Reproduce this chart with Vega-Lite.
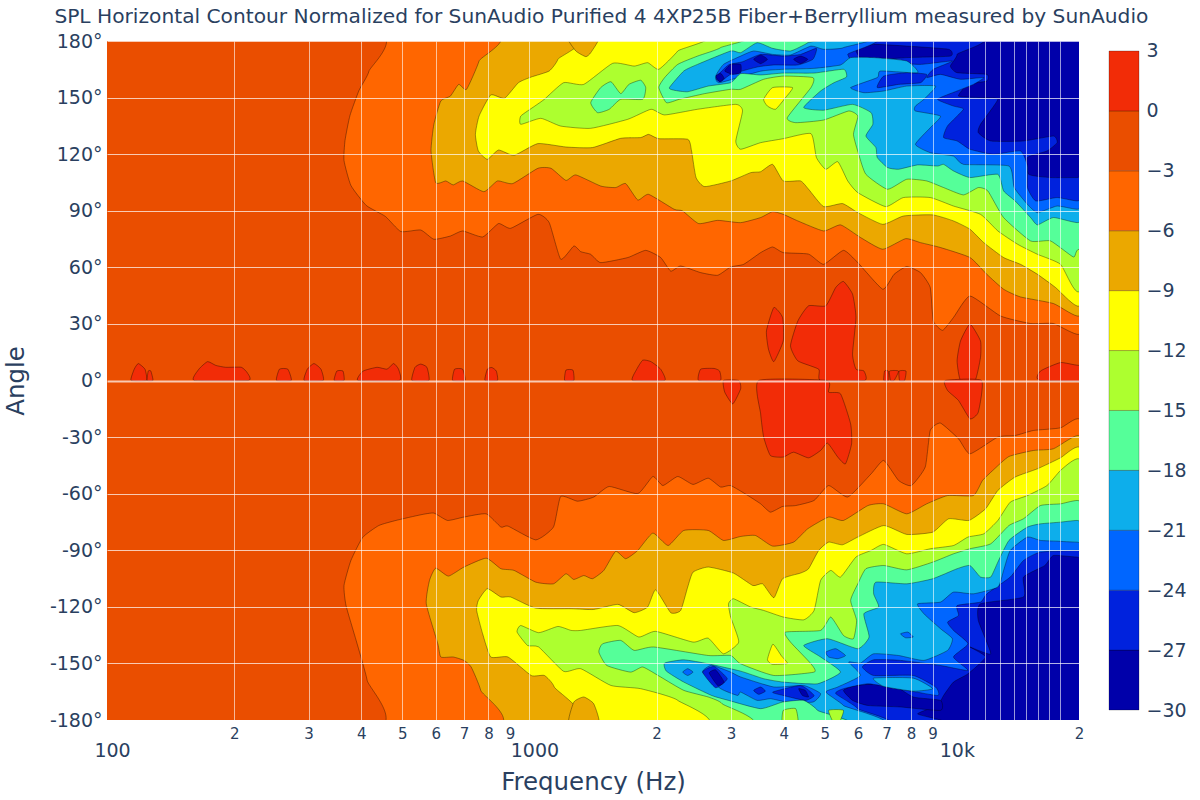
{"$schema":"https://vega.github.io/schema/vega-lite/v6.json","padding":{"left":3,"top":6,"right":0,"bottom":0},"background":"white","title":{"text":"SPL Horizontal Contour Normalized for SunAudio Purified 4 4XP25B Fiber+Berryllium measured by SunAudio","font":"DejaVu Sans","fontSize":20.2,"fontWeight":"normal","color":"#2a3f5f","anchor":"start","offset":5,"dx":51},"spacing":30,"bounds":"flush","hconcat":[{"width":972,"height":679,"data":{"values":[
{"s":"bg","b":-30,"f":50,"a":185},{"s":"bg","b":-30,"f":25000,"a":185},{"s":"bg","b":-30,"f":25000,"a":-185},{"s":"bg","b":-30,"f":50,"a":-185},
{"s":"L27","b":-27,"f":50,"a":185},{"s":"L27","b":-27,"f":9770,"a":185},{"s":"L27","b":-27,"f":10290,"a":172.9},{"s":"L27","b":-27,"f":9920,"a":166.7},{"s":"L27","b":-27,"f":10290,"a":163.2},{"s":"L27","b":-27,"f":12100,"a":162.3},{"s":"L27","b":-27,"f":12100,"a":158.8},{"s":"L27","b":-27,"f":10920,"a":157},{"s":"L27","b":-27,"f":10370,"a":150.8},{"s":"L27","b":-27,"f":11690,"a":150},{"s":"L27","b":-27,"f":12850,"a":149.1},{"s":"L27","b":-27,"f":11690,"a":135.8},{"s":"L27","b":-27,"f":11550,"a":131.4},{"s":"L27","b":-27,"f":12360,"a":127},{"s":"L27","b":-27,"f":14780,"a":127},{"s":"L27","b":-27,"f":17400,"a":129.6},{"s":"L27","b":-27,"f":17750,"a":126.1},{"s":"L27","b":-27,"f":16800,"a":121.7},{"s":"L27","b":-27,"f":15100,"a":118.2},{"s":"L27","b":-27,"f":15200,"a":109.3},{"s":"L27","b":-27,"f":17130,"a":107.6},{"s":"L27","b":-27,"f":19800,"a":107.6},{"s":"L27","b":-27,"f":25000,"a":107.6},{"s":"L27","b":-27,"f":25000,"a":-93.6},{"s":"L27","b":-27,"f":19800,"a":-93.6},{"s":"L27","b":-27,"f":17400,"a":-92.8},{"s":"L27","b":-27,"f":16600,"a":-98.1},{"s":"L27","b":-27,"f":14780,"a":-104.2},{"s":"L27","b":-27,"f":14780,"a":-114.8},{"s":"L27","b":-27,"f":11690,"a":-118.4},{"s":"L27","b":-27,"f":11550,"a":-127.2},{"s":"L27","b":-27,"f":12360,"a":-144.9},{"s":"L27","b":-27,"f":11040,"a":-141.3},{"s":"L27","b":-27,"f":12020,"a":-146.6},{"s":"L27","b":-27,"f":10920,"a":-155.5},{"s":"L27","b":-27,"f":10090,"a":-159.9},{"s":"L27","b":-27,"f":9560,"a":-167},{"s":"L27","b":-27,"f":9250,"a":-172.3},{"s":"L27","b":-27,"f":8300,"a":-176.7},{"s":"L27","b":-27,"f":8300,"a":-185},{"s":"L27","b":-27,"f":50,"a":-185},
{"s":"n1","b":-30,"f":5930,"a":175.6},{"s":"n1","b":-30,"f":6530,"a":178.2},{"s":"n1","b":-30,"f":7820,"a":177.3},{"s":"n1","b":-30,"f":9830,"a":175.6},{"s":"n1","b":-30,"f":9920,"a":172},{"s":"n1","b":-30,"f":7820,"a":171.2},{"s":"n1","b":-30,"f":6190,"a":169.8},
{"s":"n2","b":-30,"f":5540,"a":-164.3},{"s":"n2","b":-30,"f":5930,"a":-161.7},{"s":"n2","b":-30,"f":7160,"a":-160.8},{"s":"n2","b":-30,"f":8100,"a":-167.8},{"s":"n2","b":-30,"f":9400,"a":-169.6},{"s":"n2","b":-30,"f":9400,"a":-174.9},{"s":"n2","b":-30,"f":7560,"a":-173.1},{"s":"n2","b":-30,"f":6330,"a":-172.3},{"s":"n2","b":-30,"f":5820,"a":-169.6},
{"s":"L24","b":-24,"f":50,"a":185},{"s":"L24","b":-24,"f":5700,"a":185},{"s":"L24","b":-24,"f":5670,"a":172.9},{"s":"L24","b":-24,"f":5930,"a":167.6},{"s":"L24","b":-24,"f":7160,"a":168.5},{"s":"L24","b":-24,"f":8430,"a":167.6},{"s":"L24","b":-24,"f":10030,"a":169.4},{"s":"L24","b":-24,"f":9040,"a":165},{"s":"L24","b":-24,"f":8720,"a":160.6},{"s":"L24","b":-24,"f":9400,"a":162.3},{"s":"L24","b":-24,"f":10485,"a":159.7},{"s":"L24","b":-24,"f":11900,"a":160.6},{"s":"L24","b":-24,"f":11250,"a":157},{"s":"L24","b":-24,"f":10290,"a":153.5},{"s":"L24","b":-24,"f":9250,"a":149.1},{"s":"L24","b":-24,"f":10090,"a":145.5},{"s":"L24","b":-24,"f":10650,"a":143.8},{"s":"L24","b":-24,"f":9770,"a":135},{"s":"L24","b":-24,"f":9560,"a":128.8},{"s":"L24","b":-24,"f":10290,"a":127},{"s":"L24","b":-24,"f":11040,"a":122.6},{"s":"L24","b":-24,"f":12560,"a":119.9},{"s":"L24","b":-24,"f":14540,"a":121.7},{"s":"L24","b":-24,"f":15100,"a":113.7},{"s":"L24","b":-24,"f":15100,"a":102.3},{"s":"L24","b":-24,"f":15800,"a":95.2},{"s":"L24","b":-24,"f":17750,"a":97},{"s":"L24","b":-24,"f":19800,"a":95.2},{"s":"L24","b":-24,"f":25000,"a":95.2},{"s":"L24","b":-24,"f":25000,"a":-90.1},{"s":"L24","b":-24,"f":19800,"a":-90.1},{"s":"L24","b":-24,"f":16210,"a":-91},{"s":"L24","b":-24,"f":14780,"a":-95.4},{"s":"L24","b":-24,"f":13750,"a":-104.2},{"s":"L24","b":-24,"f":12100,"a":-113.1},{"s":"L24","b":-24,"f":11690,"a":-117.5},{"s":"L24","b":-24,"f":10290,"a":-119.3},{"s":"L24","b":-24,"f":10370,"a":-124.6},{"s":"L24","b":-24,"f":9770,"a":-128.1},{"s":"L24","b":-24,"f":10090,"a":-132.5},{"s":"L24","b":-24,"f":10920,"a":-139.6},{"s":"L24","b":-24,"f":10090,"a":-146.6},{"s":"L24","b":-24,"f":10920,"a":-153.7},{"s":"L24","b":-24,"f":9400,"a":-151.1},{"s":"L24","b":-24,"f":7560,"a":-148.4},{"s":"L24","b":-24,"f":6530,"a":-148.1},{"s":"L24","b":-24,"f":6140,"a":-151.9},{"s":"L24","b":-24,"f":6530,"a":-156.4},{"s":"L24","b":-24,"f":8100,"a":-156.4},{"s":"L24","b":-24,"f":9150,"a":-162.5},{"s":"L24","b":-24,"f":9250,"a":-167},{"s":"L24","b":-24,"f":7480,"a":-163.4},{"s":"L24","b":-24,"f":6330,"a":-160.8},{"s":"L24","b":-24,"f":5540,"a":-163.4},{"s":"L24","b":-24,"f":5310,"a":-166},{"s":"L24","b":-24,"f":5990,"a":-174},{"s":"L24","b":-24,"f":6080,"a":-185},{"s":"L24","b":-24,"f":50,"a":-185},
{"s":"d1","b":-27,"f":6900,"a":161.4},{"s":"d1","b":-27,"f":7820,"a":163.2},{"s":"d1","b":-27,"f":8720,"a":162.3},{"s":"d1","b":-27,"f":8430,"a":157.9},{"s":"d1","b":-27,"f":7480,"a":157},{"s":"d1","b":-27,"f":6660,"a":155.3},
{"s":"d2","b":-27,"f":2760,"a":160.6},{"s":"d2","b":-27,"f":2960,"a":167.3},{"s":"d2","b":-27,"f":3195,"a":169},{"s":"d2","b":-27,"f":3527,"a":172.9},{"s":"d2","b":-27,"f":3990,"a":172},{"s":"d2","b":-27,"f":4385,"a":172.9},{"s":"d2","b":-27,"f":4780,"a":176.1},{"s":"d2","b":-27,"f":4690,"a":170.3},{"s":"d2","b":-27,"f":4320,"a":167.3},{"s":"d2","b":-27,"f":3790,"a":167.3},{"s":"d2","b":-27,"f":3460,"a":166.2},{"s":"d2","b":-27,"f":2995,"a":162.3},{"s":"d2","b":-27,"f":2836,"a":158.4},
{"s":"n3","b":-30,"f":2900,"a":164.1},{"s":"n3","b":-30,"f":2995,"a":167.6},{"s":"n3","b":-30,"f":3163,"a":167.6},{"s":"n3","b":-30,"f":3163,"a":163.2},{"s":"n3","b":-30,"f":3030,"a":162.3},
{"s":"n4","b":-30,"f":2760,"a":161.4},{"s":"n4","b":-30,"f":2836,"a":162.9},{"s":"n4","b":-30,"f":2890,"a":160.2},{"s":"n4","b":-30,"f":2820,"a":158.4},
{"s":"n5","b":-30,"f":3395,"a":170.3},{"s":"n5","b":-30,"f":3527,"a":172.6},{"s":"n5","b":-30,"f":3660,"a":170.3},{"s":"n5","b":-30,"f":3527,"a":168},
{"s":"n6","b":-30,"f":4220,"a":170.3},{"s":"n6","b":-30,"f":4385,"a":172},{"s":"n6","b":-30,"f":4560,"a":170.3},{"s":"n6","b":-30,"f":4385,"a":168},
{"s":"L21","b":-21,"f":50,"a":185},{"s":"L21","b":-21,"f":5670,"a":185},{"s":"L21","b":-21,"f":5540,"a":176.5},{"s":"L21","b":-21,"f":4970,"a":175.6},{"s":"L21","b":-21,"f":4640,"a":177.3},{"s":"L21","b":-21,"f":4150,"a":172.6},{"s":"L21","b":-21,"f":3765,"a":172.9},{"s":"L21","b":-21,"f":3395,"a":174.7},{"s":"L21","b":-21,"f":3163,"a":172},{"s":"L21","b":-21,"f":2880,"a":167.6},{"s":"L21","b":-21,"f":2760,"a":161.4},{"s":"L21","b":-21,"f":2820,"a":157.9},{"s":"L21","b":-21,"f":3527,"a":164},{"s":"L21","b":-21,"f":3990,"a":165},{"s":"L21","b":-21,"f":4720,"a":165.5},{"s":"L21","b":-21,"f":5453,"a":167.3},{"s":"L21","b":-21,"f":5760,"a":171.2},{"s":"L21","b":-21,"f":6530,"a":171.2},{"s":"L21","b":-21,"f":7820,"a":169.4},{"s":"L21","b":-21,"f":8300,"a":163.2},{"s":"L21","b":-21,"f":6780,"a":164.1},{"s":"L21","b":-21,"f":6660,"a":160.6},{"s":"L21","b":-21,"f":5760,"a":155.3},{"s":"L21","b":-21,"f":6190,"a":152.6},{"s":"L21","b":-21,"f":6900,"a":153.5},{"s":"L21","b":-21,"f":7820,"a":156.1},{"s":"L21","b":-21,"f":9150,"a":156.1},{"s":"L21","b":-21,"f":8590,"a":149.1},{"s":"L21","b":-21,"f":8200,"a":145.5},{"s":"L21","b":-21,"f":8200,"a":142.9},{"s":"L21","b":-21,"f":9400,"a":140.2},{"s":"L21","b":-21,"f":8890,"a":134},{"s":"L21","b":-21,"f":8200,"a":125.2},{"s":"L21","b":-21,"f":8890,"a":120.8},{"s":"L21","b":-21,"f":10090,"a":119},{"s":"L21","b":-21,"f":10650,"a":114.6},{"s":"L21","b":-21,"f":13650,"a":113.7},{"s":"L21","b":-21,"f":14050,"a":102.3},{"s":"L21","b":-21,"f":15100,"a":93.4},{"s":"L21","b":-21,"f":15950,"a":89},{"s":"L21","b":-21,"f":17750,"a":92.5},{"s":"L21","b":-21,"f":19800,"a":90.8},{"s":"L21","b":-21,"f":25000,"a":90.8},{"s":"L21","b":-21,"f":25000,"a":-85.7},{"s":"L21","b":-21,"f":19800,"a":-85.7},{"s":"L21","b":-21,"f":17750,"a":-85.2},{"s":"L21","b":-21,"f":16210,"a":-84.8},{"s":"L21","b":-21,"f":15100,"a":-83},{"s":"L21","b":-21,"f":13750,"a":-90.1},{"s":"L21","b":-21,"f":13260,"a":-100.7},{"s":"L21","b":-21,"f":12850,"a":-109.5},{"s":"L21","b":-21,"f":11250,"a":-113.1},{"s":"L21","b":-21,"f":10090,"a":-112.2},{"s":"L21","b":-21,"f":9400,"a":-117.5},{"s":"L21","b":-21,"f":8300,"a":-118.4},{"s":"L21","b":-21,"f":8590,"a":-123.7},{"s":"L21","b":-21,"f":9400,"a":-131.6},{"s":"L21","b":-21,"f":10030,"a":-136.9},{"s":"L21","b":-21,"f":9770,"a":-143.1},{"s":"L21","b":-21,"f":8590,"a":-148.4},{"s":"L21","b":-21,"f":7480,"a":-145.8},{"s":"L21","b":-21,"f":6530,"a":-144.9},{"s":"L21","b":-21,"f":6080,"a":-149.8},{"s":"L21","b":-21,"f":5700,"a":-149.3},{"s":"L21","b":-21,"f":6080,"a":-156.4},{"s":"L21","b":-21,"f":5370,"a":-162.5},{"s":"L21","b":-21,"f":5030,"a":-165.2},{"s":"L21","b":-21,"f":5540,"a":-172.3},{"s":"L21","b":-21,"f":6020,"a":-185},{"s":"L21","b":-21,"f":50,"a":-185},
{"s":"k1","b":-21,"f":6530,"a":-157.8},{"s":"k1","b":-21,"f":8100,"a":-157.8},{"s":"k1","b":-21,"f":9010,"a":-163.4},{"s":"k1","b":-21,"f":8100,"a":-164.7},{"s":"k1","b":-21,"f":6900,"a":-162.2},
{"s":"h1","b":-24,"f":5030,"a":-144},{"s":"h1","b":-24,"f":5310,"a":-142.2},{"s":"h1","b":-24,"f":5600,"a":-145.8},{"s":"h1","b":-24,"f":5370,"a":-147.5},{"s":"h1","b":-24,"f":5110,"a":-146.6},
{"s":"h2","b":-24,"f":7560,"a":-134.3},{"s":"h2","b":-24,"f":7870,"a":-133.4},{"s":"h2","b":-24,"f":8100,"a":-136},{"s":"h2","b":-24,"f":7770,"a":-136.4},
{"s":"h3","b":-24,"f":2305,"a":-154.6},{"s":"h3","b":-24,"f":2370,"a":-152.8},{"s":"h3","b":-24,"f":2440,"a":-154.6},{"s":"h3","b":-24,"f":2370,"a":-156.4},
{"s":"h4","b":-24,"f":2570,"a":-154.6},{"s":"h4","b":-24,"f":2700,"a":-151},{"s":"h4","b":-24,"f":2995,"a":-154.6},{"s":"h4","b":-24,"f":3163,"a":-157.2},{"s":"h4","b":-24,"f":3790,"a":-162.5},{"s":"h4","b":-24,"f":4460,"a":-161.7},{"s":"h4","b":-24,"f":4890,"a":-166},{"s":"h4","b":-24,"f":4690,"a":-170.5},{"s":"h4","b":-24,"f":4080,"a":-170.5},{"s":"h4","b":-24,"f":3720,"a":-168.7},{"s":"h4","b":-24,"f":3460,"a":-169.6},{"s":"h4","b":-24,"f":3163,"a":-165.2},{"s":"h4","b":-24,"f":3110,"a":-167},{"s":"h4","b":-24,"f":2836,"a":-163.4},
{"s":"d3","b":-27,"f":2570,"a":-154.6},{"s":"d3","b":-27,"f":2735,"a":-151.6},{"s":"d3","b":-27,"f":2940,"a":-158.1},{"s":"d3","b":-27,"f":2760,"a":-162.9},
{"s":"n7","b":-30,"f":2665,"a":-155.1},{"s":"n7","b":-30,"f":2760,"a":-153.4},{"s":"n7","b":-30,"f":2890,"a":-159.9},{"s":"n7","b":-30,"f":2790,"a":-161.7},
{"s":"d4","b":-27,"f":3765,"a":-165.2},{"s":"d4","b":-27,"f":4385,"a":-161.7},{"s":"d4","b":-27,"f":4720,"a":-167},{"s":"d4","b":-27,"f":4500,"a":-169.6},{"s":"d4","b":-27,"f":3990,"a":-167},
{"s":"n8","b":-30,"f":4340,"a":-163.4},{"s":"n8","b":-30,"f":4500,"a":-164.3},{"s":"n8","b":-30,"f":4580,"a":-167.8},{"s":"n8","b":-30,"f":4430,"a":-167},
{"s":"d5","b":-27,"f":3395,"a":-164.3},{"s":"d5","b":-27,"f":3527,"a":-162.5},{"s":"d5","b":-27,"f":3620,"a":-164.7},{"s":"d5","b":-27,"f":3490,"a":-166.4},
{"s":"L18","b":-18,"f":50,"a":185},{"s":"L18","b":-18,"f":4810,"a":185},{"s":"L18","b":-18,"f":4560,"a":179.1},{"s":"L18","b":-18,"f":4150,"a":174.7},{"s":"L18","b":-18,"f":3765,"a":176.1},{"s":"L18","b":-18,"f":3460,"a":179.1},{"s":"L18","b":-18,"f":3163,"a":173.8},{"s":"L18","b":-18,"f":2995,"a":174.7},{"s":"L18","b":-18,"f":2500,"a":167.6},{"s":"L18","b":-18,"f":2320,"a":164.1},{"s":"L18","b":-18,"f":2145,"a":155.3},{"s":"L18","b":-18,"f":2200,"a":153.9},{"s":"L18","b":-18,"f":2370,"a":153.1},{"s":"L18","b":-18,"f":2650,"a":156.1},{"s":"L18","b":-18,"f":2995,"a":157.9},{"s":"L18","b":-18,"f":3163,"a":162.7},{"s":"L18","b":-18,"f":3527,"a":162},{"s":"L18","b":-18,"f":3990,"a":163},{"s":"L18","b":-18,"f":4720,"a":163},{"s":"L18","b":-18,"f":5540,"a":165},{"s":"L18","b":-18,"f":5630,"a":160.9},{"s":"L18","b":-18,"f":5260,"a":157.9},{"s":"L18","b":-18,"f":4890,"a":153.5},{"s":"L18","b":-18,"f":4460,"a":144.7},{"s":"L18","b":-18,"f":4970,"a":143.3},{"s":"L18","b":-18,"f":5820,"a":146.4},{"s":"L18","b":-18,"f":6440,"a":142},{"s":"L18","b":-18,"f":6500,"a":135.8},{"s":"L18","b":-18,"f":6260,"a":129.6},{"s":"L18","b":-18,"f":6610,"a":123.5},{"s":"L18","b":-18,"f":6660,"a":118.2},{"s":"L18","b":-18,"f":7040,"a":112.9},{"s":"L18","b":-18,"f":7480,"a":112},{"s":"L18","b":-18,"f":8300,"a":114.3},{"s":"L18","b":-18,"f":9250,"a":113.7},{"s":"L18","b":-18,"f":9560,"a":114.6},{"s":"L18","b":-18,"f":10090,"a":111.1},{"s":"L18","b":-18,"f":11040,"a":107.6},{"s":"L18","b":-18,"f":12850,"a":109.3},{"s":"L18","b":-18,"f":13260,"a":100.5},{"s":"L18","b":-18,"f":14120,"a":95.2},{"s":"L18","b":-18,"f":15360,"a":86.4},{"s":"L18","b":-18,"f":15950,"a":82.5},{"s":"L18","b":-18,"f":17400,"a":86.4},{"s":"L18","b":-18,"f":19800,"a":83.7},{"s":"L18","b":-18,"f":25000,"a":83.7},{"s":"L18","b":-18,"f":25000,"a":-74.2},{"s":"L18","b":-18,"f":19800,"a":-74.2},{"s":"L18","b":-18,"f":18080,"a":-75.1},{"s":"L18","b":-18,"f":16210,"a":-76},{"s":"L18","b":-18,"f":15100,"a":-77.7},{"s":"L18","b":-18,"f":13650,"a":-84.8},{"s":"L18","b":-18,"f":12850,"a":-96.3},{"s":"L18","b":-18,"f":12360,"a":-104.2},{"s":"L18","b":-18,"f":11690,"a":-104.2},{"s":"L18","b":-18,"f":11040,"a":-98.1},{"s":"L18","b":-18,"f":10290,"a":-99.8},{"s":"L18","b":-18,"f":9010,"a":-105.1},{"s":"L18","b":-18,"f":7820,"a":-107.8},{"s":"L18","b":-18,"f":6610,"a":-106.9},{"s":"L18","b":-18,"f":6530,"a":-113.1},{"s":"L18","b":-18,"f":6710,"a":-120.1},{"s":"L18","b":-18,"f":6190,"a":-123.7},{"s":"L18","b":-18,"f":6370,"a":-136},{"s":"L18","b":-18,"f":5990,"a":-142.2},{"s":"L18","b":-18,"f":5080,"a":-136.9},{"s":"L18","b":-18,"f":4460,"a":-140.5},{"s":"L18","b":-18,"f":4890,"a":-146.6},{"s":"L18","b":-18,"f":5453,"a":-154.6},{"s":"L18","b":-18,"f":4810,"a":-160.8},{"s":"L18","b":-18,"f":3990,"a":-159.9},{"s":"L18","b":-18,"f":3585,"a":-158.1},{"s":"L18","b":-18,"f":3163,"a":-154.1},{"s":"L18","b":-18,"f":2650,"a":-150.2},{"s":"L18","b":-18,"f":2320,"a":-148.1},{"s":"L18","b":-18,"f":2090,"a":-149.8},{"s":"L18","b":-18,"f":2110,"a":-154.1},{"s":"L18","b":-18,"f":2320,"a":-159.9},{"s":"L18","b":-18,"f":2700,"a":-167},{"s":"L18","b":-18,"f":2960,"a":-169.6},{"s":"L18","b":-18,"f":3527,"a":-174},{"s":"L18","b":-18,"f":3975,"a":-170.5},{"s":"L18","b":-18,"f":4460,"a":-169.6},{"s":"L18","b":-18,"f":4810,"a":-174.9},{"s":"L18","b":-18,"f":4950,"a":-185},{"s":"L18","b":-18,"f":50,"a":-185},
{"s":"L15","b":-15,"f":50,"a":185},{"s":"L15","b":-15,"f":2940,"a":185},{"s":"L15","b":-15,"f":2836,"a":176.5},{"s":"L15","b":-15,"f":2500,"a":172},{"s":"L15","b":-15,"f":2245,"a":167.6},{"s":"L15","b":-15,"f":2090,"a":160.6},{"s":"L15","b":-15,"f":2025,"a":155.3},{"s":"L15","b":-15,"f":2110,"a":147.3},{"s":"L15","b":-15,"f":2265,"a":149.1},{"s":"L15","b":-15,"f":2600,"a":152.1},{"s":"L15","b":-15,"f":2995,"a":154.4},{"s":"L15","b":-15,"f":3163,"a":154.4},{"s":"L15","b":-15,"f":3585,"a":159.7},{"s":"L15","b":-15,"f":3990,"a":161.4},{"s":"L15","b":-15,"f":4690,"a":160.6},{"s":"L15","b":-15,"f":4640,"a":155.3},{"s":"L15","b":-15,"f":4080,"a":139.4},{"s":"L15","b":-15,"f":4270,"a":136.7},{"s":"L15","b":-15,"f":4970,"a":138.1},{"s":"L15","b":-15,"f":5700,"a":142.9},{"s":"L15","b":-15,"f":5990,"a":140.2},{"s":"L15","b":-15,"f":5850,"a":130.5},{"s":"L15","b":-15,"f":6020,"a":119.9},{"s":"L15","b":-15,"f":6260,"a":109.3},{"s":"L15","b":-15,"f":7040,"a":101.4},{"s":"L15","b":-15,"f":7820,"a":106.7},{"s":"L15","b":-15,"f":8720,"a":105.8},{"s":"L15","b":-15,"f":9560,"a":102.3},{"s":"L15","b":-15,"f":10650,"a":98.4},{"s":"L15","b":-15,"f":11550,"a":102.3},{"s":"L15","b":-15,"f":12170,"a":100.5},{"s":"L15","b":-15,"f":13260,"a":86.4},{"s":"L15","b":-15,"f":15360,"a":74},{"s":"L15","b":-15,"f":17130,"a":74},{"s":"L15","b":-15,"f":19400,"a":65.5},{"s":"L15","b":-15,"f":20000,"a":69.6},{"s":"L15","b":-15,"f":25000,"a":69.6},{"s":"L15","b":-15,"f":25000,"a":-63.6},{"s":"L15","b":-15,"f":19800,"a":-63.6},{"s":"L15","b":-15,"f":18080,"a":-65.4},{"s":"L15","b":-15,"f":16210,"a":-66.3},{"s":"L15","b":-15,"f":14780,"a":-73.3},{"s":"L15","b":-15,"f":13650,"a":-76.9},{"s":"L15","b":-15,"f":12360,"a":-86.6},{"s":"L15","b":-15,"f":11040,"a":-89.2},{"s":"L15","b":-15,"f":10090,"a":-91.9},{"s":"L15","b":-15,"f":9010,"a":-96.3},{"s":"L15","b":-15,"f":7820,"a":-100.4},{"s":"L15","b":-15,"f":6900,"a":-98.1},{"s":"L15","b":-15,"f":6260,"a":-99.8},{"s":"L15","b":-15,"f":5990,"a":-107.8},{"s":"L15","b":-15,"f":5760,"a":-116.6},{"s":"L15","b":-15,"f":5950,"a":-127.2},{"s":"L15","b":-15,"f":5850,"a":-136.9},{"s":"L15","b":-15,"f":5540,"a":-135.2},{"s":"L15","b":-15,"f":5170,"a":-125.4},{"s":"L15","b":-15,"f":4890,"a":-132.5},{"s":"L15","b":-15,"f":4040,"a":-133.4},{"s":"L15","b":-15,"f":4150,"a":-138.7},{"s":"L15","b":-15,"f":4640,"a":-150.2},{"s":"L15","b":-15,"f":4720,"a":-154.6},{"s":"L15","b":-15,"f":3790,"a":-156.4},{"s":"L15","b":-15,"f":3163,"a":-150.2},{"s":"L15","b":-15,"f":2995,"a":-145.8},{"s":"L15","b":-15,"f":2650,"a":-145.8},{"s":"L15","b":-15,"f":1970,"a":-141.3},{"s":"L15","b":-15,"f":1770,"a":-143.1},{"s":"L15","b":-15,"f":1645,"a":-137.8},{"s":"L15","b":-15,"f":1490,"a":-139.6},{"s":"L15","b":-15,"f":1460,"a":-144},{"s":"L15","b":-15,"f":1525,"a":-151.1},{"s":"L15","b":-15,"f":1735,"a":-154.6},{"s":"L15","b":-15,"f":1855,"a":-151.9},{"s":"L15","b":-15,"f":2045,"a":-157.2},{"s":"L15","b":-15,"f":2320,"a":-164.3},{"s":"L15","b":-15,"f":2650,"a":-167.8},{"s":"L15","b":-15,"f":2860,"a":-171.4},{"s":"L15","b":-15,"f":2960,"a":-185},{"s":"L15","b":-15,"f":50,"a":-185},
{"s":"p1","b":-18,"f":1397,"a":147.3},{"s":"p1","b":-18,"f":1475,"a":155.3},{"s":"p1","b":-18,"f":1560,"a":158.4},{"s":"p1","b":-18,"f":1645,"a":152.1},{"s":"p1","b":-18,"f":1720,"a":157},{"s":"p1","b":-18,"f":1834,"a":159.2},{"s":"p1","b":-18,"f":1885,"a":155.3},{"s":"p1","b":-18,"f":1855,"a":149.1},{"s":"p1","b":-18,"f":1645,"a":149.1},{"s":"p1","b":-18,"f":1545,"a":143.8},{"s":"p1","b":-18,"f":1450,"a":142},
{"s":"g1","b":-15,"f":3975,"a":-182},{"s":"g1","b":-15,"f":3990,"a":-174.9},{"s":"g1","b":-15,"f":4270,"a":-174},{"s":"g1","b":-15,"f":4320,"a":-182},
{"s":"g2","b":-15,"f":5110,"a":-174.9},{"s":"g2","b":-15,"f":5540,"a":-174.9},{"s":"g2","b":-15,"f":5400,"a":-182},{"s":"g2","b":-15,"f":5260,"a":-182},
{"s":"L12","b":-12,"f":50,"a":185},{"s":"L12","b":-12,"f":2370,"a":185},{"s":"L12","b":-12,"f":2245,"a":174.7},{"s":"L12","b":-12,"f":2025,"a":165},{"s":"L12","b":-12,"f":1905,"a":168.5},{"s":"L12","b":-12,"f":1770,"a":166.7},{"s":"L12","b":-12,"f":1575,"a":168.2},{"s":"L12","b":-12,"f":1345,"a":157},{"s":"L12","b":-12,"f":1205,"a":157.9},{"s":"L12","b":-12,"f":1085,"a":149.1},{"s":"L12","b":-12,"f":1030,"a":145.5},{"s":"L12","b":-12,"f":954,"a":140.2},{"s":"L12","b":-12,"f":954,"a":135.8},{"s":"L12","b":-12,"f":1064,"a":139},{"s":"L12","b":-12,"f":1186,"a":134.9},{"s":"L12","b":-12,"f":1397,"a":133.7},{"s":"L12","b":-12,"f":1710,"a":138.5},{"s":"L12","b":-12,"f":1940,"a":143.8},{"s":"L12","b":-12,"f":2090,"a":140.8},{"s":"L12","b":-12,"f":2500,"a":143.8},{"s":"L12","b":-12,"f":3080,"a":146.4},{"s":"L12","b":-12,"f":3195,"a":142.9},{"s":"L12","b":-12,"f":3080,"a":127},{"s":"L12","b":-12,"f":3163,"a":122.6},{"s":"L12","b":-12,"f":3527,"a":126.1},{"s":"L12","b":-12,"f":3990,"a":128.2},{"s":"L12","b":-12,"f":4640,"a":130.9},{"s":"L12","b":-12,"f":4780,"a":118.2},{"s":"L12","b":-12,"f":5030,"a":112},{"s":"L12","b":-12,"f":5370,"a":116},{"s":"L12","b":-12,"f":5670,"a":105.8},{"s":"L12","b":-12,"f":5990,"a":99.6},{"s":"L12","b":-12,"f":6970,"a":92.2},{"s":"L12","b":-12,"f":7680,"a":97},{"s":"L12","b":-12,"f":8890,"a":97},{"s":"L12","b":-12,"f":10090,"a":92.5},{"s":"L12","b":-12,"f":11690,"a":88.1},{"s":"L12","b":-12,"f":12850,"a":79.3},{"s":"L12","b":-12,"f":14320,"a":72.2},{"s":"L12","b":-12,"f":15950,"a":66.9},{"s":"L12","b":-12,"f":18080,"a":61.6},{"s":"L12","b":-12,"f":19800,"a":47.1},{"s":"L12","b":-12,"f":25000,"a":47.1},{"s":"L12","b":-12,"f":25000,"a":-41.5},{"s":"L12","b":-12,"f":19800,"a":-41.5},{"s":"L12","b":-12,"f":18080,"a":-47.7},{"s":"L12","b":-12,"f":16800,"a":-55.7},{"s":"L12","b":-12,"f":15100,"a":-61},{"s":"L12","b":-12,"f":13750,"a":-64.5},{"s":"L12","b":-12,"f":12850,"a":-74.2},{"s":"L12","b":-12,"f":11900,"a":-81.3},{"s":"L12","b":-12,"f":10920,"a":-83},{"s":"L12","b":-12,"f":10090,"a":-87.5},{"s":"L12","b":-12,"f":8890,"a":-89.2},{"s":"L12","b":-12,"f":7820,"a":-91.9},{"s":"L12","b":-12,"f":6900,"a":-86.9},{"s":"L12","b":-12,"f":6440,"a":-90.1},{"s":"L12","b":-12,"f":5930,"a":-93.6},{"s":"L12","b":-12,"f":5453,"a":-104.2},{"s":"L12","b":-12,"f":5170,"a":-100.7},{"s":"L12","b":-12,"f":4890,"a":-106},{"s":"L12","b":-12,"f":4720,"a":-121.9},{"s":"L12","b":-12,"f":4460,"a":-126.9},{"s":"L12","b":-12,"f":3990,"a":-125.4},{"s":"L12","b":-12,"f":3585,"a":-121.9},{"s":"L12","b":-12,"f":3340,"a":-120.1},{"s":"L12","b":-12,"f":3040,"a":-115.7},{"s":"L12","b":-12,"f":2960,"a":-118.4},{"s":"L12","b":-12,"f":2995,"a":-125.4},{"s":"L12","b":-12,"f":3130,"a":-138.7},{"s":"L12","b":-12,"f":2880,"a":-144.9},{"s":"L12","b":-12,"f":2650,"a":-136.6},{"s":"L12","b":-12,"f":2440,"a":-138.7},{"s":"L12","b":-12,"f":1990,"a":-133},{"s":"L12","b":-12,"f":1815,"a":-136},{"s":"L12","b":-12,"f":1620,"a":-129.9},{"s":"L12","b":-12,"f":1323,"a":-132.5},{"s":"L12","b":-12,"f":1255,"a":-132.5},{"s":"L12","b":-12,"f":1168,"a":-130.4},{"s":"L12","b":-12,"f":1052,"a":-133.7},{"s":"L12","b":-12,"f":954,"a":-129.9},{"s":"L12","b":-12,"f":935,"a":-133.4},{"s":"L12","b":-12,"f":990,"a":-140.5},{"s":"L12","b":-12,"f":1052,"a":-141.3},{"s":"L12","b":-12,"f":1205,"a":-154.2},{"s":"L12","b":-12,"f":1323,"a":-152.8},{"s":"L12","b":-12,"f":1560,"a":-161.7},{"s":"L12","b":-12,"f":1834,"a":-163.4},{"s":"L12","b":-12,"f":2245,"a":-169.6},{"s":"L12","b":-12,"f":2340,"a":-185},{"s":"L12","b":-12,"f":50,"a":-185},
{"s":"y1","b":-12,"f":3585,"a":149.1},{"s":"y1","b":-12,"f":3765,"a":155.3},{"s":"y1","b":-12,"f":4195,"a":155.3},{"s":"y1","b":-12,"f":4040,"a":150},{"s":"y1","b":-12,"f":3825,"a":143.8},{"s":"y1","b":-12,"f":3660,"a":145.5},
{"s":"y2","b":-12,"f":3660,"a":-148},{"s":"y2","b":-12,"f":3770,"a":-139.8},{"s":"y2","b":-12,"f":3950,"a":-146},{"s":"y2","b":-12,"f":4080,"a":-150},{"s":"y2","b":-12,"f":3760,"a":-150.5},
{"s":"L9","b":-9,"f":50,"a":185},{"s":"L9","b":-9,"f":1198,"a":185},{"s":"L9","b":-9,"f":1168,"a":170.3},{"s":"L9","b":-9,"f":1114,"a":164.1},{"s":"L9","b":-9,"f":1010,"a":160.9},{"s":"L9","b":-9,"f":942,"a":157.9},{"s":"L9","b":-9,"f":873,"a":149.6},{"s":"L9","b":-9,"f":810,"a":151.4},{"s":"L9","b":-9,"f":760,"a":140.2},{"s":"L9","b":-9,"f":745,"a":130.5},{"s":"L9","b":-9,"f":757,"a":121.7},{"s":"L9","b":-9,"f":795,"a":117.3},{"s":"L9","b":-9,"f":845,"a":122.2},{"s":"L9","b":-9,"f":920,"a":119.4},{"s":"L9","b":-9,"f":1047,"a":125.6},{"s":"L9","b":-9,"f":1220,"a":123.8},{"s":"L9","b":-9,"f":1410,"a":123.5},{"s":"L9","b":-9,"f":1645,"a":128.4},{"s":"L9","b":-9,"f":1834,"a":128.8},{"s":"L9","b":-9,"f":1915,"a":130.5},{"s":"L9","b":-9,"f":2025,"a":128.2},{"s":"L9","b":-9,"f":2370,"a":127.9},{"s":"L9","b":-9,"f":2420,"a":121.7},{"s":"L9","b":-9,"f":2480,"a":107.6},{"s":"L9","b":-9,"f":2600,"a":102.8},{"s":"L9","b":-9,"f":2995,"a":105.8},{"s":"L9","b":-9,"f":3340,"a":110.2},{"s":"L9","b":-9,"f":3527,"a":110.7},{"s":"L9","b":-9,"f":3765,"a":114.6},{"s":"L9","b":-9,"f":3990,"a":105.8},{"s":"L9","b":-9,"f":4385,"a":105.8},{"s":"L9","b":-9,"f":4580,"a":101.4},{"s":"L9","b":-9,"f":4970,"a":92.2},{"s":"L9","b":-9,"f":5510,"a":93.8},{"s":"L9","b":-9,"f":5990,"a":89},{"s":"L9","b":-9,"f":6860,"a":82.8},{"s":"L9","b":-9,"f":7680,"a":87.2},{"s":"L9","b":-9,"f":9010,"a":87.8},{"s":"L9","b":-9,"f":10090,"a":84.6},{"s":"L9","b":-9,"f":11040,"a":80.2},{"s":"L9","b":-9,"f":11900,"a":73.1},{"s":"L9","b":-9,"f":13260,"a":65.2},{"s":"L9","b":-9,"f":14540,"a":61.6},{"s":"L9","b":-9,"f":15950,"a":56.3},{"s":"L9","b":-9,"f":17600,"a":49.3},{"s":"L9","b":-9,"f":19800,"a":39.5},{"s":"L9","b":-9,"f":25000,"a":39.5},{"s":"L9","b":-9,"f":25000,"a":-35.3},{"s":"L9","b":-9,"f":19800,"a":-35.3},{"s":"L9","b":-9,"f":18080,"a":-41},{"s":"L9","b":-9,"f":15950,"a":-46.8},{"s":"L9","b":-9,"f":14120,"a":-51.2},{"s":"L9","b":-9,"f":12850,"a":-58.3},{"s":"L9","b":-9,"f":12020,"a":-68},{"s":"L9","b":-9,"f":10980,"a":-74.2},{"s":"L9","b":-9,"f":9830,"a":-73.3},{"s":"L9","b":-9,"f":9010,"a":-80.4},{"s":"L9","b":-9,"f":7820,"a":-81.6},{"s":"L9","b":-9,"f":6900,"a":-76.9},{"s":"L9","b":-9,"f":5990,"a":-83},{"s":"L9","b":-9,"f":5510,"a":-87.1},{"s":"L9","b":-9,"f":5110,"a":-85.7},{"s":"L9","b":-9,"f":4840,"a":-90.1},{"s":"L9","b":-9,"f":4580,"a":-99.8},{"s":"L9","b":-9,"f":4385,"a":-102.1},{"s":"L9","b":-9,"f":3975,"a":-105.1},{"s":"L9","b":-9,"f":3790,"a":-115.2},{"s":"L9","b":-9,"f":3565,"a":-107.8},{"s":"L9","b":-9,"f":3380,"a":-108.7},{"s":"L9","b":-9,"f":3040,"a":-102.1},{"s":"L9","b":-9,"f":2650,"a":-98.9},{"s":"L9","b":-9,"f":2440,"a":-101.6},{"s":"L9","b":-9,"f":2370,"a":-109.5},{"s":"L9","b":-9,"f":2281,"a":-121.9},{"s":"L9","b":-9,"f":2160,"a":-123.1},{"s":"L9","b":-9,"f":1990,"a":-111},{"s":"L9","b":-9,"f":1905,"a":-120.1},{"s":"L9","b":-9,"f":1770,"a":-123.1},{"s":"L9","b":-9,"f":1620,"a":-118.7},{"s":"L9","b":-9,"f":1420,"a":-121.4},{"s":"L9","b":-9,"f":1255,"a":-121},{"s":"L9","b":-9,"f":1035,"a":-120.7},{"s":"L9","b":-9,"f":903,"a":-114.8},{"s":"L9","b":-9,"f":856,"a":-114.8},{"s":"L9","b":-9,"f":795,"a":-110.4},{"s":"L9","b":-9,"f":757,"a":-116.6},{"s":"L9","b":-9,"f":750,"a":-121.9},{"s":"L9","b":-9,"f":775,"a":-134.3},{"s":"L9","b":-9,"f":810,"a":-146.6},{"s":"L9","b":-9,"f":890,"a":-146.6},{"s":"L9","b":-9,"f":1010,"a":-156.4},{"s":"L9","b":-9,"f":1085,"a":-156.4},{"s":"L9","b":-9,"f":1145,"a":-162.5},{"s":"L9","b":-9,"f":1205,"a":-185},{"s":"L9","b":-9,"f":50,"a":-185},
{"s":"o1","b":-9,"f":1240,"a":-182},{"s":"o1","b":-9,"f":1274,"a":-170.5},{"s":"o1","b":-9,"f":1345,"a":-167.8},{"s":"o1","b":-9,"f":1420,"a":-171.4},{"s":"o1","b":-9,"f":1460,"a":-182},
{"s":"o2","b":-9,"f":1233,"a":182},{"s":"o2","b":-9,"f":1288,"a":174.7},{"s":"o2","b":-9,"f":1360,"a":171.7},{"s":"o2","b":-9,"f":1397,"a":173.8},{"s":"o2","b":-9,"f":1460,"a":182},
{"s":"L6","b":-6,"f":50,"a":185},{"s":"L6","b":-6,"f":780,"a":185},{"s":"L6","b":-6,"f":760,"a":169.4},{"s":"L6","b":-6,"f":710,"a":154.4},{"s":"L6","b":-6,"f":680,"a":157},{"s":"L6","b":-6,"f":650,"a":150.8},{"s":"L6","b":-6,"f":617,"a":148.2},{"s":"L6","b":-6,"f":594,"a":135.8},{"s":"L6","b":-6,"f":585,"a":121.7},{"s":"L6","b":-6,"f":600,"a":104.9},{"s":"L6","b":-6,"f":634,"a":105.8},{"s":"L6","b":-6,"f":660,"a":103.7},{"s":"L6","b":-6,"f":695,"a":105.8},{"s":"L6","b":-6,"f":780,"a":100.1},{"s":"L6","b":-6,"f":840,"a":105.8},{"s":"L6","b":-6,"f":913,"a":104.4},{"s":"L6","b":-6,"f":1047,"a":112.5},{"s":"L6","b":-6,"f":1125,"a":112.5},{"s":"L6","b":-6,"f":1220,"a":106.1},{"s":"L6","b":-6,"f":1288,"a":109},{"s":"L6","b":-6,"f":1475,"a":103.1},{"s":"L6","b":-6,"f":1600,"a":102.3},{"s":"L6","b":-6,"f":1690,"a":104.4},{"s":"L6","b":-6,"f":1805,"a":95.7},{"s":"L6","b":-6,"f":1915,"a":98.7},{"s":"L6","b":-6,"f":2200,"a":90.8},{"s":"L6","b":-6,"f":2305,"a":89.9},{"s":"L6","b":-6,"f":2515,"a":83.2},{"s":"L6","b":-6,"f":2790,"a":84.9},{"s":"L6","b":-6,"f":3163,"a":83.7},{"s":"L6","b":-6,"f":3527,"a":86.4},{"s":"L6","b":-6,"f":3765,"a":89.5},{"s":"L6","b":-6,"f":3990,"a":88.1},{"s":"L6","b":-6,"f":4320,"a":84.6},{"s":"L6","b":-6,"f":4970,"a":79.3},{"s":"L6","b":-6,"f":5453,"a":82.5},{"s":"L6","b":-6,"f":6080,"a":75.8},{"s":"L6","b":-6,"f":6860,"a":69.6},{"s":"L6","b":-6,"f":7770,"a":75.2},{"s":"L6","b":-6,"f":8430,"a":73.1},{"s":"L6","b":-6,"f":9400,"a":70.5},{"s":"L6","b":-6,"f":11040,"a":65.2},{"s":"L6","b":-6,"f":12100,"a":56.3},{"s":"L6","b":-6,"f":13260,"a":48.4},{"s":"L6","b":-6,"f":14540,"a":44.3},{"s":"L6","b":-6,"f":17400,"a":40.8},{"s":"L6","b":-6,"f":19800,"a":34.2},{"s":"L6","b":-6,"f":25000,"a":34.2},{"s":"L6","b":-6,"f":25000,"a":-29.2},{"s":"L6","b":-6,"f":19800,"a":-29.2},{"s":"L6","b":-6,"f":17400,"a":-36.2},{"s":"L6","b":-6,"f":15600,"a":-37.1},{"s":"L6","b":-6,"f":13650,"a":-40.3},{"s":"L6","b":-6,"f":12500,"a":-47.7},{"s":"L6","b":-6,"f":11820,"a":-53},{"s":"L6","b":-6,"f":11250,"a":-61},{"s":"L6","b":-6,"f":9770,"a":-61},{"s":"L6","b":-6,"f":8720,"a":-65.4},{"s":"L6","b":-6,"f":7820,"a":-70.7},{"s":"L6","b":-6,"f":6900,"a":-65.4},{"s":"L6","b":-6,"f":6330,"a":-66.3},{"s":"L6","b":-6,"f":5540,"a":-74.2},{"s":"L6","b":-6,"f":5110,"a":-72.4},{"s":"L6","b":-6,"f":4560,"a":-78.6},{"s":"L6","b":-6,"f":4220,"a":-85.7},{"s":"L6","b":-6,"f":3765,"a":-87.8},{"s":"L6","b":-6,"f":3430,"a":-82.2},{"s":"L6","b":-6,"f":3163,"a":-82.7},{"s":"L6","b":-6,"f":2880,"a":-84.8},{"s":"L6","b":-6,"f":2650,"a":-79.5},{"s":"L6","b":-6,"f":2320,"a":-79.5},{"s":"L6","b":-6,"f":2130,"a":-87.5},{"s":"L6","b":-6,"f":1960,"a":-80.9},{"s":"L6","b":-6,"f":1805,"a":-90.1},{"s":"L6","b":-6,"f":1690,"a":-94.5},{"s":"L6","b":-6,"f":1600,"a":-90.6},{"s":"L6","b":-6,"f":1500,"a":-100.7},{"s":"L6","b":-6,"f":1410,"a":-105.1},{"s":"L6","b":-6,"f":1345,"a":-103.4},{"s":"L6","b":-6,"f":1274,"a":-105.5},{"s":"L6","b":-6,"f":1220,"a":-102.5},{"s":"L6","b":-6,"f":1140,"a":-107.8},{"s":"L6","b":-6,"f":1035,"a":-106.9},{"s":"L6","b":-6,"f":920,"a":-100.7},{"s":"L6","b":-6,"f":856,"a":-99.8},{"s":"L6","b":-6,"f":790,"a":-94.2},{"s":"L6","b":-6,"f":700,"a":-98.9},{"s":"L6","b":-6,"f":643,"a":-103.7},{"s":"L6","b":-6,"f":600,"a":-99.5},{"s":"L6","b":-6,"f":580,"a":-106},{"s":"L6","b":-6,"f":570,"a":-118.4},{"s":"L6","b":-6,"f":607,"a":-139.6},{"s":"L6","b":-6,"f":617,"a":-146.6},{"s":"L6","b":-6,"f":660,"a":-146.6},{"s":"L6","b":-6,"f":700,"a":-148.4},{"s":"L6","b":-6,"f":728,"a":-151.9},{"s":"L6","b":-6,"f":767,"a":-164.3},{"s":"L6","b":-6,"f":790,"a":-185},{"s":"L6","b":-6,"f":50,"a":-185},
{"s":"L3","b":-3,"f":50,"a":185},{"s":"L3","b":-3,"f":426,"a":185},{"s":"L3","b":-3,"f":417,"a":164},{"s":"L3","b":-3,"f":395,"a":153.8},{"s":"L3","b":-3,"f":376,"a":140.5},{"s":"L3","b":-3,"f":366,"a":127.3},{"s":"L3","b":-3,"f":364,"a":116.6},{"s":"L3","b":-3,"f":378,"a":103.4},{"s":"L3","b":-3,"f":411,"a":92.8},{"s":"L3","b":-3,"f":456,"a":87},{"s":"L3","b":-3,"f":496,"a":79},{"s":"L3","b":-3,"f":553,"a":79.8},{"s":"L3","b":-3,"f":594,"a":74.9},{"s":"L3","b":-3,"f":650,"a":76.6},{"s":"L3","b":-3,"f":695,"a":79.3},{"s":"L3","b":-3,"f":775,"a":76.1},{"s":"L3","b":-3,"f":845,"a":83.2},{"s":"L3","b":-3,"f":903,"a":80.7},{"s":"L3","b":-3,"f":1047,"a":88.1},{"s":"L3","b":-3,"f":1114,"a":83.7},{"s":"L3","b":-3,"f":1186,"a":64.3},{"s":"L3","b":-3,"f":1274,"a":71.3},{"s":"L3","b":-3,"f":1323,"a":68.3},{"s":"L3","b":-3,"f":1397,"a":66.9},{"s":"L3","b":-3,"f":1475,"a":62.5},{"s":"L3","b":-3,"f":1710,"a":65.2},{"s":"L3","b":-3,"f":1885,"a":69},{"s":"L3","b":-3,"f":2045,"a":65.2},{"s":"L3","b":-3,"f":2160,"a":58},{"s":"L3","b":-3,"f":2281,"a":60.7},{"s":"L3","b":-3,"f":2543,"a":57.2},{"s":"L3","b":-3,"f":2790,"a":55.8},{"s":"L3","b":-3,"f":2995,"a":60.2},{"s":"L3","b":-3,"f":3215,"a":61.6},{"s":"L3","b":-3,"f":3527,"a":67.8},{"s":"L3","b":-3,"f":3765,"a":70.8},{"s":"L3","b":-3,"f":3990,"a":67.8},{"s":"L3","b":-3,"f":4580,"a":67},{"s":"L3","b":-3,"f":4970,"a":61.6},{"s":"L3","b":-3,"f":5540,"a":69},{"s":"L3","b":-3,"f":5990,"a":62.5},{"s":"L3","b":-3,"f":6860,"a":48.4},{"s":"L3","b":-3,"f":7300,"a":56.3},{"s":"L3","b":-3,"f":7820,"a":60.4},{"s":"L3","b":-3,"f":8430,"a":57.2},{"s":"L3","b":-3,"f":8890,"a":49.3},{"s":"L3","b":-3,"f":9040,"a":31.6},{"s":"L3","b":-3,"f":9510,"a":26.6},{"s":"L3","b":-3,"f":10090,"a":33.4},{"s":"L3","b":-3,"f":11040,"a":44.8},{"s":"L3","b":-3,"f":13040,"a":34.2},{"s":"L3","b":-3,"f":15360,"a":30.2},{"s":"L3","b":-3,"f":17400,"a":30.2},{"s":"L3","b":-3,"f":19800,"a":24.5},{"s":"L3","b":-3,"f":25000,"a":24.5},{"s":"L3","b":-3,"f":25000,"a":-20.3},{"s":"L3","b":-3,"f":19800,"a":-20.3},{"s":"L3","b":-3,"f":18080,"a":-25.1},{"s":"L3","b":-3,"f":15600,"a":-26.5},{"s":"L3","b":-3,"f":14120,"a":-29.2},{"s":"L3","b":-3,"f":12850,"a":-30},{"s":"L3","b":-3,"f":11040,"a":-38.9},{"s":"L3","b":-3,"f":10370,"a":-30.9},{"s":"L3","b":-3,"f":9400,"a":-22.6},{"s":"L3","b":-3,"f":8890,"a":-26.5},{"s":"L3","b":-3,"f":8650,"a":-45.9},{"s":"L3","b":-3,"f":8020,"a":-55.7},{"s":"L3","b":-3,"f":7480,"a":-53},{"s":"L3","b":-3,"f":6900,"a":-42.4},{"s":"L3","b":-3,"f":6440,"a":-49.5},{"s":"L3","b":-3,"f":5670,"a":-61.8},{"s":"L3","b":-3,"f":5110,"a":-55.7},{"s":"L3","b":-3,"f":4720,"a":-63.6},{"s":"L3","b":-3,"f":4270,"a":-66.3},{"s":"L3","b":-3,"f":3975,"a":-66.8},{"s":"L3","b":-3,"f":3720,"a":-69.8},{"s":"L3","b":-3,"f":3527,"a":-65.4},{"s":"L3","b":-3,"f":3290,"a":-61},{"s":"L3","b":-3,"f":2995,"a":-55.7},{"s":"L3","b":-3,"f":2836,"a":-56.5},{"s":"L3","b":-3,"f":2650,"a":-51.8},{"s":"L3","b":-3,"f":2440,"a":-55.1},{"s":"L3","b":-3,"f":2245,"a":-50.9},{"s":"L3","b":-3,"f":2070,"a":-55.7},{"s":"L3","b":-3,"f":1960,"a":-50.9},{"s":"L3","b":-3,"f":1805,"a":-60},{"s":"L3","b":-3,"f":1545,"a":-56.2},{"s":"L3","b":-3,"f":1420,"a":-61.8},{"s":"L3","b":-3,"f":1300,"a":-64},{"s":"L3","b":-3,"f":1186,"a":-61.5},{"s":"L3","b":-3,"f":1140,"a":-77.7},{"s":"L3","b":-3,"f":1035,"a":-84.5},{"s":"L3","b":-3,"f":890,"a":-77.2},{"s":"L3","b":-3,"f":856,"a":-77.7},{"s":"L3","b":-3,"f":790,"a":-70.7},{"s":"L3","b":-3,"f":700,"a":-72.4},{"s":"L3","b":-3,"f":640,"a":-74.2},{"s":"L3","b":-3,"f":594,"a":-70.3},{"s":"L3","b":-3,"f":553,"a":-71.2},{"s":"L3","b":-3,"f":483,"a":-74.2},{"s":"L3","b":-3,"f":440,"a":-76.9},{"s":"L3","b":-3,"f":403,"a":-83.2},{"s":"L3","b":-3,"f":378,"a":-95.4},{"s":"L3","b":-3,"f":364,"a":-108.7},{"s":"L3","b":-3,"f":368,"a":-119.3},{"s":"L3","b":-3,"f":389,"a":-137.9},{"s":"L3","b":-3,"f":413,"a":-159},{"s":"L3","b":-3,"f":426,"a":-185},{"s":"L3","b":-3,"f":50,"a":-185},
{"s":"rA","b":0,"f":114,"a":0},{"s":"rA","b":0,"f":116,"a":6},{"s":"rA","b":0,"f":118.6,"a":9},{"s":"rA","b":0,"f":123,"a":6},{"s":"rA","b":0,"f":124,"a":0},
{"s":"rB","b":0,"f":124.5,"a":0},{"s":"rB","b":0,"f":125.2,"a":5},{"s":"rB","b":0,"f":127,"a":5},{"s":"rB","b":0,"f":128.5,"a":0},
{"s":"rC","b":0,"f":161,"a":0},{"s":"rC","b":0,"f":165,"a":6},{"s":"rC","b":0,"f":173,"a":10},{"s":"rC","b":0,"f":181,"a":8},{"s":"rC","b":0,"f":191,"a":7},{"s":"rC","b":0,"f":208,"a":7},{"s":"rC","b":0,"f":215,"a":4},{"s":"rC","b":0,"f":216,"a":0},
{"s":"rD","b":0,"f":252,"a":0},{"s":"rD","b":0,"f":256,"a":6},{"s":"rD","b":0,"f":268,"a":6},{"s":"rD","b":0,"f":273,"a":0},
{"s":"rE","b":0,"f":293,"a":0},{"s":"rE","b":0,"f":298,"a":6},{"s":"rE","b":0,"f":309,"a":9},{"s":"rE","b":0,"f":321,"a":6},{"s":"rE","b":0,"f":325,"a":0},
{"s":"rF","b":0,"f":345,"a":0},{"s":"rF","b":0,"f":350,"a":5},{"s":"rF","b":0,"f":362,"a":5},{"s":"rF","b":0,"f":364,"a":0},
{"s":"rG","b":0,"f":393,"a":0},{"s":"rG","b":0,"f":404,"a":5},{"s":"rG","b":0,"f":436,"a":7},{"s":"rG","b":0,"f":460,"a":6},{"s":"rG","b":0,"f":477,"a":9},{"s":"rG","b":0,"f":490,"a":6},{"s":"rG","b":0,"f":492,"a":0},
{"s":"rH","b":0,"f":527,"a":0},{"s":"rH","b":0,"f":536,"a":7},{"s":"rH","b":0,"f":553,"a":8.7},{"s":"rH","b":0,"f":572,"a":7},{"s":"rH","b":0,"f":578,"a":0},
{"s":"rI","b":0,"f":658,"a":0},{"s":"rI","b":0,"f":665,"a":6},{"s":"rI","b":0,"f":695,"a":6},{"s":"rI","b":0,"f":704,"a":0},
{"s":"rJ","b":0,"f":785,"a":0},{"s":"rJ","b":0,"f":795,"a":6},{"s":"rJ","b":0,"f":815,"a":6.9},{"s":"rJ","b":0,"f":835,"a":5},{"s":"rJ","b":0,"f":840,"a":0},
{"s":"rK","b":0,"f":1212,"a":0},{"s":"rK","b":0,"f":1220,"a":5.5},{"s":"rK","b":0,"f":1268,"a":5.5},{"s":"rK","b":0,"f":1274,"a":0},
{"s":"rL","b":0,"f":1755,"a":0},{"s":"rL","b":0,"f":1795,"a":6},{"s":"rL","b":0,"f":1855,"a":10.8},{"s":"rL","b":0,"f":1940,"a":10},{"s":"rL","b":0,"f":2045,"a":6},{"s":"rL","b":0,"f":2090,"a":0},
{"s":"rM","b":0,"f":2515,"a":0},{"s":"rM","b":0,"f":2543,"a":6},{"s":"rM","b":0,"f":2735,"a":6.4},{"s":"rM","b":0,"f":2820,"a":5},{"s":"rM","b":0,"f":2830,"a":0},
{"s":"rN","b":0,"f":3790,"a":38.7},{"s":"rN","b":0,"f":3975,"a":33.4},{"s":"rN","b":0,"f":3990,"a":21},{"s":"rN","b":0,"f":3790,"a":10},{"s":"rN","b":0,"f":3680,"a":16.6},{"s":"rN","b":0,"f":3640,"a":26.3},
{"s":"rO","b":0,"f":5540,"a":52.5},{"s":"rO","b":0,"f":5820,"a":45.8},{"s":"rO","b":0,"f":5930,"a":33.4},{"s":"rO","b":0,"f":5820,"a":14},{"s":"rO","b":0,"f":5930,"a":6},{"s":"rO","b":0,"f":6190,"a":5.1},{"s":"rO","b":0,"f":6220,"a":0},{"s":"rO","b":0,"f":4890,"a":0},{"s":"rO","b":0,"f":4840,"a":6},{"s":"rO","b":0,"f":4320,"a":10.4},{"s":"rO","b":0,"f":4150,"a":18.4},{"s":"rO","b":0,"f":4320,"a":31.6},{"s":"rO","b":0,"f":4580,"a":39.6},{"s":"rO","b":0,"f":5030,"a":39.6},{"s":"rO","b":0,"f":5310,"a":49.3},
{"s":"rP","b":0,"f":6900,"a":0},{"s":"rP","b":0,"f":6930,"a":5},{"s":"rP","b":0,"f":7070,"a":5},{"s":"rP","b":0,"f":7090,"a":0},
{"s":"rQ","b":0,"f":7160,"a":0},{"s":"rQ","b":0,"f":7120,"a":5},{"s":"rQ","b":0,"f":7480,"a":5},{"s":"rQ","b":0,"f":7300,"a":0},
{"s":"rR","b":0,"f":7520,"a":0},{"s":"rR","b":0,"f":7500,"a":5},{"s":"rR","b":0,"f":7790,"a":5},{"s":"rR","b":0,"f":7730,"a":0},
{"s":"rS","b":0,"f":16210,"a":0},{"s":"rS","b":0,"f":16210,"a":5},{"s":"rS","b":0,"f":18080,"a":9.5},{"s":"rS","b":0,"f":20000,"a":8},{"s":"rS","b":0,"f":25000,"a":8},{"s":"rS","b":0,"f":25000,"a":0},
{"s":"rT","b":0,"f":11040,"a":29.9},{"s":"rT","b":0,"f":11690,"a":21},{"s":"rT","b":0,"f":11690,"a":12.2},{"s":"rT","b":0,"f":11350,"a":0},{"s":"rT","b":0,"f":10485,"a":0},{"s":"rT","b":0,"f":10290,"a":10.4},{"s":"rT","b":0,"f":10485,"a":21},
{"s":"rU","b":0,"f":2880,"a":0},{"s":"rU","b":0,"f":2900,"a":-6.2},{"s":"rU","b":0,"f":3030,"a":-12.4},{"s":"rU","b":0,"f":3163,"a":-4.4},{"s":"rU","b":0,"f":3130,"a":0},
{"s":"rV","b":0,"f":3490,"a":0},{"s":"rV","b":0,"f":3527,"a":-17.7},{"s":"rV","b":0,"f":3585,"a":-30},{"s":"rV","b":0,"f":3720,"a":-39.8},{"s":"rV","b":0,"f":3990,"a":-40.6},{"s":"rV","b":0,"f":4220,"a":-38},{"s":"rV","b":0,"f":4580,"a":-41},{"s":"rV","b":0,"f":4890,"a":-37.1},{"s":"rV","b":0,"f":5080,"a":-33.2},{"s":"rV","b":0,"f":5370,"a":-40.6},{"s":"rV","b":0,"f":5600,"a":-44.2},{"s":"rV","b":0,"f":5790,"a":-33.6},{"s":"rV","b":0,"f":5760,"a":-23},{"s":"rV","b":0,"f":5453,"a":-7.1},{"s":"rV","b":0,"f":5110,"a":-6.2},{"s":"rV","b":0,"f":5060,"a":0},
{"s":"rW","b":0,"f":9650,"a":0},{"s":"rW","b":0,"f":9770,"a":-5.3},{"s":"rW","b":0,"f":10370,"a":-10.6},{"s":"rW","b":0,"f":11040,"a":-20.3},{"s":"rW","b":0,"f":11550,"a":-16.8},{"s":"rW","b":0,"f":11760,"a":0}
]},"mark":{"type":"line","interpolate":"cardinal-closed","tension":0.5,"clip":true,"stroke":"#000000","strokeOpacity":0.45,"strokeWidth":0.8},"encoding":{"x":{"field":"f","type":"quantitative","scale":{"type":"log","domain":[100,20000],"nice":false},"axis":{"title":"Frequency (Hz)","titleFont":"DejaVu Sans","titleFontSize":24.5,"titleFontWeight":"normal","titleColor":"#2a3f5f","titlePadding":10,"values":[100,200,300,400,500,600,700,800,900,1000,2000,3000,4000,5000,6000,7000,8000,9000,10000,11000,12000,13000,14000,15000,16000,17000,18000,20000],"labelExpr":"datum.value==100?'100':datum.value==1000?'1000':datum.value==10000?'10k':(datum.value>10000&&datum.value<20000)?'':datum.value==20000?'2':datum.value<1000?format(datum.value/100,'d'):format(datum.value/1000,'d')","labelFont":"DejaVu Sans","labelColor":"#2a3f5f","labelOverlap":false,"labelFlush":false,"labelBound":false,"labelPadding":6,"ticks":false,"domain":false,"grid":true,"gridColor":"#ffffff","gridWidth":1,"gridOpacity":{"condition":{"test":"datum.value==900||datum.value==10000||datum.value==100||datum.value==20000","value":0},"value":0.6},"zindex":1,"labelFontSize":{"condition":{"test":"datum.value==100||datum.value==1000||datum.value==10000","value":19},"value":15},"labelOffset":{"condition":{"test":"datum.value==100||datum.value==1000||datum.value==10000","value":5},"value":0},"encoding":{"labels":{"dy":{"condition":{"test":"datum.value==100||datum.value==1000||datum.value==10000","value":15},"value":0}}}}},"y":{"field":"a","type":"quantitative","scale":{"domain":[-180,180],"nice":false},"axis":{"title":"Angle","titleFont":"DejaVu Sans","titleFontSize":24.5,"titleFontWeight":"normal","titleColor":"#2a3f5f","titlePadding":21,"values":[-180,-150,-120,-90,-60,-30,0,30,60,90,120,150,180],"labelExpr":"datum.value+'°'","labelFont":"DejaVu Sans","labelFontSize":19,"labelColor":"#2a3f5f","labelOverlap":false,"labelFlush":false,"labelBound":false,"labelPadding":5,"ticks":false,"domain":false,"grid":true,"gridColor":"#ffffff","gridOpacity":0.7,"gridWidth":{"condition":{"test":"datum.value==0","value":2},"value":1},"zindex":1}},"fill":{"field":"b","type":"ordinal","scale":{"domain":[-30,-27,-24,-21,-18,-15,-12,-9,-6,-3,0],"range":["#0000AA","#0022DD","#0066FF","#0DAEEB","#55FF99","#ADFF2F","#FFFF00","#EBA800","#FF6600","#EA4E00","#F22C07"]},"legend":null},"detail":{"field":"s"},"order":{"value":null}}},{"width":30,"height":679,"data":{"values":[{"lo":-30,"hi":-27,"b":-30},{"lo":-27,"hi":-24,"b":-27},{"lo":-24,"hi":-21,"b":-24},{"lo":-21,"hi":-18,"b":-21},{"lo":-18,"hi":-15,"b":-18},{"lo":-15,"hi":-12,"b":-15},{"lo":-12,"hi":-9,"b":-12},{"lo":-9,"hi":-6,"b":-9},{"lo":-6,"hi":-3,"b":-6},{"lo":-3,"hi":0,"b":-3},{"lo":0,"hi":3,"b":0}]},"mark":{"type":"rect","stroke":"#000000","strokeOpacity":0.3,"strokeWidth":0.8},"encoding":{"y":{"field":"lo","type":"quantitative","scale":{"domain":[-30.5,3.5],"nice":false},"axis":{"orient":"right","title":null,"values":[-30,-27,-24,-21,-18,-15,-12,-9,-6,-3,0,3],"labelExpr":"replace(datum.label,'-','−')","labelFont":"DejaVu Sans","labelFontSize":19,"labelColor":"#2a3f5f","labelOverlap":false,"labelFlush":false,"labelBound":false,"labelPadding":7,"ticks":false,"domain":false,"grid":false}},"y2":{"field":"hi"},"fill":{"field":"b","type":"ordinal","scale":{"domain":[-30,-27,-24,-21,-18,-15,-12,-9,-6,-3,0],"range":["#0000AA","#0022DD","#0066FF","#0DAEEB","#55FF99","#ADFF2F","#FFFF00","#EBA800","#FF6600","#EA4E00","#F22C07"]},"legend":null}}}],"config":{"view":{"stroke":null}}}
